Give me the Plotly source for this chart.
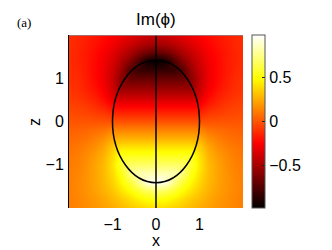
import numpy as np
import plotly.graph_objects as go

# grid of the field, x and z from -2 to 2 in steps of 0.2
x_vals = [-2.0, -1.8, -1.6, -1.4, -1.2, -1.0, -0.8, -0.6, -0.4, -0.2, 0.0,
          0.2, 0.4, 0.6, 0.8, 1.0, 1.2, 1.4, 1.6, 1.8, 2.0]
z_vals = x_vals[:]

# Im(phi) in hundredths, rows from z=-2 (bottom) up to z=2 (top)
im_phi_pct = [
    [12, 14, 16, 19, 22, 25, 29, 33, 36, 39, 40, 39, 36, 33, 29, 25, 22, 19, 16, 14, 12],
    [12, 14, 17, 20, 24, 29, 34, 40, 46, 50, 51, 50, 46, 40, 34, 29, 24, 20, 17, 14, 12],
    [12, 15, 18, 22, 27, 33, 41, 49, 59, 66, 70, 66, 59, 49, 41, 33, 27, 22, 18, 15, 12],
    [12, 15, 18, 23, 29, 37, 48, 61, 78, 94, 98, 94, 78, 61, 48, 37, 29, 23, 18, 15, 12],
    [12, 14, 18, 23, 30, 40, 54, 75, 84, 84, 84, 84, 84, 75, 54, 40, 30, 23, 18, 14, 12],
    [11, 13, 17, 23, 30, 42, 59, 70, 70, 70, 70, 70, 70, 70, 59, 42, 30, 23, 17, 13, 11],
    [10, 12, 16, 21, 28, 40, 56, 56, 56, 56, 56, 56, 56, 56, 56, 40, 28, 21, 16, 12, 10],
    [8, 10, 13, 17, 24, 35, 42, 42, 42, 42, 42, 42, 42, 42, 42, 35, 24, 17, 13, 10, 8],
    [6, 7, 9, 13, 18, 26, 28, 28, 28, 28, 28, 28, 28, 28, 28, 26, 18, 13, 9, 7, 6],
    [3, 4, 5, 7, 9, 14, 14, 14, 14, 14, 14, 14, 14, 14, 14, 14, 9, 7, 5, 4, 3],
    [0, 0, 0, 0, 0, 0, 0, 0, 0, 0, 0, 0, 0, 0, 0, 0, 0, 0, 0, 0, 0],
    [-3, -4, -5, -7, -9, -14, -14, -14, -14, -14, -14, -14, -14, -14, -14, -14, -9, -7, -5, -4, -3],
    [-6, -7, -9, -13, -18, -26, -28, -28, -28, -28, -28, -28, -28, -28, -28, -26, -18, -13, -9, -7, -6],
    [-8, -10, -13, -17, -24, -35, -42, -42, -42, -42, -42, -42, -42, -42, -42, -35, -24, -17, -13, -10, -8],
    [-10, -12, -16, -21, -28, -40, -56, -56, -56, -56, -56, -56, -56, -56, -56, -40, -28, -21, -16, -12, -10],
    [-11, -13, -17, -23, -30, -42, -59, -70, -70, -70, -70, -70, -70, -70, -59, -42, -30, -23, -17, -13, -11],
    [-12, -14, -18, -23, -30, -40, -54, -75, -84, -84, -84, -84, -84, -75, -54, -40, -30, -23, -18, -14, -12],
    [-12, -15, -18, -23, -29, -37, -48, -61, -78, -94, -98, -94, -78, -61, -48, -37, -29, -23, -18, -15, -12],
    [-12, -15, -18, -22, -27, -33, -41, -49, -59, -66, -70, -66, -59, -49, -41, -33, -27, -22, -18, -15, -12],
    [-12, -14, -17, -20, -24, -29, -34, -40, -46, -50, -51, -50, -46, -40, -34, -29, -24, -20, -17, -14, -12],
    [-12, -14, -16, -19, -22, -25, -29, -33, -36, -39, -40, -39, -36, -33, -29, -25, -22, -19, -16, -14, -12],
]

# ellipse outline semi-axes
ell_a = 1.0
ell_c = 1.414

cbar_ticks = [-0.5, 0, 0.5]
axis_ticks = [-1, 0, 1]

hot = [[0, "rgb(0,0,0)"], [0.375, "rgb(255,0,0)"],
       [0.75, "rgb(255,255,0)"], [1, "rgb(255,255,255)"]]

FONT = "Liberation Sans"

fig = go.Figure(go.Heatmap(
    x=x_vals, y=z_vals, z=np.array(im_phi_pct) / 100.0,
    colorscale=hot, zmin=-0.99, zmax=0.99, zsmooth="best",
    colorbar=dict(
        x=1.053, xanchor="left", y=0.5, yanchor="middle",
        thicknessmode="pixels", thickness=13,
        lenmode="pixels", len=173,
        xpad=0, ypad=0,
        outlinewidth=1, outlinecolor="#555",
        tickvals=cbar_ticks, ticks="inside", ticklen=3, tickcolor="#222",
        tickfont=dict(family=FONT, size=16, color="black"),
    ),
))

fig.add_shape(type="circle", xref="x", yref="y",
              x0=-ell_a, x1=ell_a, y0=-ell_c, y1=ell_c,
              line=dict(color="black", width=1.5))
fig.add_shape(type="line", xref="x", yref="y", x0=0, x1=0, y0=-2, y1=2,
              line=dict(color="black", width=1.5))
fig.add_shape(type="line", xref="x", yref="y", x0=-2, x1=2, y0=2, y1=2,
              line=dict(color="#888", width=1.5))

fig.update_xaxes(range=[-2, 2], tickvals=axis_ticks, showgrid=False, zeroline=False,
                 ticks="", ticklabelstandoff=5,
                 tickfont=dict(family=FONT, size=16, color="black"))
fig.update_yaxes(range=[-2, 2], tickvals=axis_ticks, showgrid=False, zeroline=False,
                 ticks="", ticklabelstandoff=1, showline=True, linecolor="black", linewidth=1,
                 tickfont=dict(family=FONT, size=16, color="black"))

# page body adds 8px around the figure, so the figure is 8px smaller
fig.update_layout(
    width=324, height=242,
    margin=dict(l=61, r=89, t=27, b=42),
    paper_bgcolor="white", plot_bgcolor="white",
    showlegend=False,
    annotations=[
        dict(text="Im(ϕ)", x=0.5, y=1.156, xref="paper", yref="paper",
             showarrow=False, xanchor="center", yanchor="top",
             font=dict(family=FONT, size=17, color="black")),
        dict(text="(a)", x=-0.259, y=1.075, xref="paper", yref="paper",
             showarrow=False, xanchor="center", yanchor="middle",
             font=dict(family="Liberation Serif", size=13, color="black")),
        dict(text="z", x=-0.201, y=0.497, xref="paper", yref="paper", textangle=-90,
             showarrow=False, xanchor="center", yanchor="middle",
             font=dict(family=FONT, size=16, color="black")),
        dict(text="x", x=0.5, y=-0.185, xref="paper", yref="paper",
             showarrow=False, xanchor="center", yanchor="middle",
             font=dict(family=FONT, size=16, color="black")),
    ],
)

fig.write_html("out.html")
